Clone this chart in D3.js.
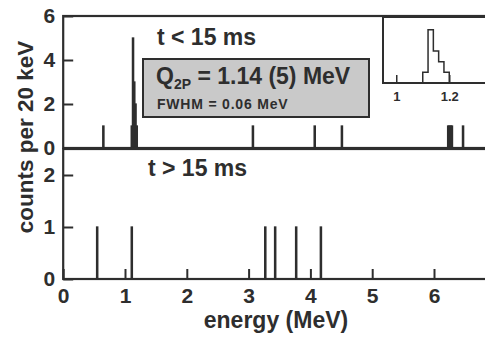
<!DOCTYPE html>
<html>
<head>
<meta charset="utf-8">
<script src="https://cdn.jsdelivr.net/npm/d3@7"></script>
<style>
  html, body { margin: 0; padding: 0; background: #ffffff; }
  svg { display: block; }
  text { font-family: "Liberation Sans", Arial, Helvetica, sans-serif; font-weight: bold; fill: #2e2e2e; }
</style>
</head>
<body>
<svg id="chart" width="485" height="337"></svg>
<script>
// Energy histogram, 20 keV bins: lower bin edge (MeV) and counts
const binWidth = 0.02;
const earlyEnergies = [0.64, 1.10, 1.12, 1.14, 1.16, 1.18, 3.06, 4.06, 4.50, 6.22, 6.24, 6.26, 6.28, 6.46];
const earlyCounts   = [1,    1,    5,    3,    2,    1,    1,    1,    1,    1,    1,    1,    1,    1];
const lateEnergies  = [0.54, 1.10, 3.26, 3.42, 3.76, 4.16];
const lateCounts    = [1,    1,    1,    1,    1,    1];

const energyTicks = [0, 1, 2, 3, 4, 5, 6];
const earlyCountTicks = [0, 2, 4, 6];
const lateCountTicks = [0, 1, 2];
const insetTicks = [1, 1.2];

const ink = "#2e2e2e";
const svg = d3.select("#chart");

// Shared energy axis
const x = d3.scaleLinear().domain([0, 7]).range([63.2, 495.8]);
const yEarly = d3.scaleLinear().domain([0, 6]).range([148, 16]);
const yLate = d3.scaleLinear().domain([0, 2.5]).range([279, 149]);

const early = earlyEnergies.map((e, i) => ({ e, c: earlyCounts[i] }));
const late = lateEnergies.map((e, i) => ({ e, c: lateCounts[i] }));

function drawBars(g, data, y) {
  g.selectAll("rect.bin").data(data).join("rect")
    .attr("class", "bin")
    .attr("x", d => x(d.e))
    .attr("width", d => x(d.e + binWidth) - x(d.e))
    .attr("y", d => y(d.c))
    .attr("height", d => y(0) - y(d.c))
    .attr("fill", ink)
    .attr("stroke", ink)
    .attr("stroke-width", 1.3);
}

// Panel frames
function frame(y) {
  svg.append("rect")
    .attr("x", x(0)).attr("y", y.range()[1])
    .attr("width", x(7) - x(0)).attr("height", y.range()[0] - y.range()[1])
    .attr("fill", "none").attr("stroke", ink).attr("stroke-width", 2.2);
}

drawBars(svg.append("g"), early, yEarly);
drawBars(svg.append("g"), late, yLate);
frame(yEarly);
frame(yLate);

function styleAxis(g, size) {
  g.select(".domain").remove();
  g.selectAll(".tick line").attr("stroke", ink).attr("stroke-width", 2);
  g.selectAll(".tick text").attr("fill", ink).style("font-size", size + "px");
}

// Y axes (inward ticks)
svg.append("g").attr("transform", `translate(${x(0)},0)`)
  .call(d3.axisLeft(yEarly).tickValues(earlyCountTicks).tickSize(-10).tickPadding(8).tickFormat(d3.format("d")))
  .call(g => styleAxis(g, 21));
svg.append("g").attr("transform", `translate(${x(0)},0)`)
  .call(d3.axisLeft(yLate).tickValues(lateCountTicks).tickSize(-10).tickPadding(8).tickFormat(d3.format("d")))
  .call(g => styleAxis(g, 21));

// X axis on lower panel
svg.append("g").attr("transform", `translate(0,${yLate(0)})`)
  .call(d3.axisBottom(x).tickValues(energyTicks).tickSize(-10).tickPadding(9).tickFormat(d3.format("d")))
  .call(g => styleAxis(g, 21));

// Axis titles
svg.append("text")
  .attr("x", 276).attr("y", 328)
  .attr("text-anchor", "middle")
  .style("font-size", "23px")
  .text("energy (MeV)");

svg.append("text")
  .attr("transform", "translate(33,137) rotate(-90)")
  .attr("text-anchor", "middle")
  .style("font-size", "22.5px")
  .text("counts per 20 keV");

// Panel labels
svg.append("text").attr("x", 157).attr("y", 45).style("font-size", "23px").text("t < 15 ms");
svg.append("text").attr("x", 148).attr("y", 176).style("font-size", "23px").text("t > 15 ms");

// Result box
svg.append("rect")
  .attr("x", 143).attr("y", 59).attr("width", 226).attr("height", 58)
  .attr("fill", "#c9c9c9").attr("stroke", ink).attr("stroke-width", 2);

const q = svg.append("text").attr("x", 156).attr("y", 84).style("font-size", "23px");
q.append("tspan").text("Q");
q.append("tspan").attr("dy", 5).style("font-size", "14px").text("2P");
q.append("tspan").attr("dy", -5).text(" = 1.14 (5) MeV");

svg.append("text").attr("x", 157).attr("y", 109)
  .style("font-size", "14px").style("letter-spacing", "0.8px")
  .text("FWHM = 0.06 MeV");

// Inset: zoom on the peak region
const xi = d3.scaleLinear().domain([0.95, 1.35]).range([383, 489]);
const yi = d3.scaleLinear().domain([0, 6.2]).range([83, 17]);

const peak = early.filter(d => d.e >= 1.0 && d.e < 1.3);
const stepPts = [];
peak.forEach(d => {
  stepPts.push([xi(d.e), yi(d.c)]);
  stepPts.push([xi(d.e + binWidth), yi(d.c)]);
});
stepPts.unshift([xi(peak[0].e), yi(0)]);
stepPts.push([xi(peak[peak.length - 1].e + binWidth), yi(0)]);

const inset = svg.append("g");
inset.append("rect")
  .attr("x", xi.range()[0]).attr("y", yi.range()[1])
  .attr("width", xi.range()[1] - xi.range()[0]).attr("height", yi.range()[0] - yi.range()[1])
  .attr("fill", "#ffffff").attr("stroke", ink).attr("stroke-width", 2);
inset.append("path")
  .attr("d", d3.line()(stepPts))
  .attr("fill", "none").attr("stroke", ink).attr("stroke-width", 1.5);
inset.append("g").attr("transform", `translate(0,${yi(0)})`)
  .call(d3.axisBottom(xi).tickValues(insetTicks).tickSize(-8).tickPadding(9).tickFormat(d3.format("")))
  .call(g => styleAxis(g, 13))
  .call(g => g.selectAll(".tick line").attr("stroke-width", 1.5));
</script>
</body>
</html>
